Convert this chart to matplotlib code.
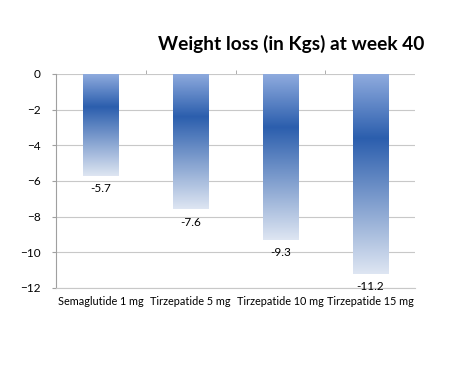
import matplotlib.pyplot as plt
import numpy as np
from matplotlib.colors import LinearSegmentedColormap

# data
categories = ['Semaglutide 1 mg', 'Tirzepatide 5 mg', 'Tirzepatide 10 mg', 'Tirzepatide 15 mg']
weight_loss = [-5.7, -7.6, -9.3, -11.2]
title = 'Weight loss (in Kgs) at week 40'

plt.rcParams['font.family'] = ['Lato', 'DejaVu Sans']

fig = plt.figure(figsize=(4.74, 3.70), dpi=100)
ax = fig.add_axes([0.118, 0.222, 0.758, 0.578])

# excel style vertical gradient: light top, dark at ~1/3, pale bottom
cmap = LinearSegmentedColormap.from_list('excel_blue', [
    (0.0, (0.56, 0.67, 0.87)),
    (0.32, (0.17, 0.37, 0.68)),
    (1.0, (0.87, 0.90, 0.95)),
])

x = np.arange(len(categories))
bars = ax.bar(x, weight_loss, width=0.39, color='none', zorder=3)
grad = np.linspace(0, 1, 256).reshape(-1, 1)
for b in bars:
    x0, w = b.get_x(), b.get_width()
    y0, h = b.get_y(), b.get_height()
    # h negative: top is y0, bottom is y0 + h
    ax.imshow(grad, cmap=cmap, aspect='auto', origin='upper',
              extent=(x0, x0 + w, y0 + h, y0), zorder=3)

for xi, v in zip(x, weight_loss):
    ax.annotate(f'{v}', (xi, v), xytext=(0, -5.5), textcoords='offset points',
                ha='center', va='top', fontsize=8.5, color='black', zorder=4)

ax.set_xlim(-0.5, len(categories) - 0.5)
ax.set_ylim(-12, 0)
ax.set_yticks(np.arange(-12, 1, 2))
ax.yaxis.grid(True, color='#c8c8c8', linewidth=0.8, zorder=0)
ax.set_axisbelow(True)

ax.set_xticks(x)
ax.set_xticklabels(categories, fontsize=7.8)
ax.tick_params(axis='x', length=0, pad=6)
ax.tick_params(axis='y', length=3, color='#a0a0a0', labelsize=8.5, pad=8)

# category boundary ticks along the zero line
ax.set_xticks(np.arange(0.5, len(categories) - 0.5, 1), minor=True)
ax.tick_params(axis='x', which='minor', top=True, bottom=False, length=3,
               color='#a0a0a0', direction='out')

for s in ['top', 'right']:
    ax.spines[s].set_visible(False)
ax.spines['left'].set_color('#a0a0a0')
ax.spines['bottom'].set_color('#c8c8c8')

fig.text(0.895, 0.865, title, ha='right', va='baseline', fontsize=13.8, fontweight='bold')

fig.savefig('out.png', dpi=100)
